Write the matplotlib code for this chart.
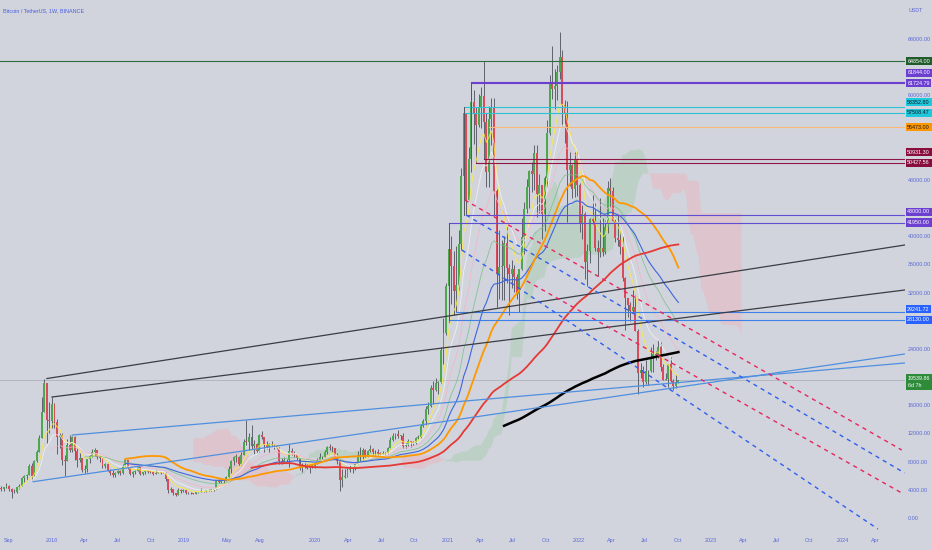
import numpy as np
import pandas as pd
import matplotlib
matplotlib.use('Agg')
import matplotlib.pyplot as plt
import matplotlib.dates as mdates
from matplotlib.transforms import blended_transform_factory

# BTCUSDT weekly candles (Binance), first week 2017-08-14, last week 2022-10-03
first_open = 4261.0
closes = [
    # 2017
    4087, 4380, 4580, 4120, 3690, 3650, 4370, 4600, 5680, 5980, 6150, 7370, 5950, 8040, 9300, 11400, 15100, 19100, 13900, 13800,
    # 2018
    16150, 13600, 11500, 11800, 8200, 8100, 10400, 9650, 11500, 9500, 8200, 8450, 6820, 7000, 8350, 8800, 9400, 9650, 8680, 8500,
    7350, 7700, 6700, 6450, 6150, 6350, 6700, 6350, 7400, 8200, 7030, 6300, 6500, 6700, 7300, 6200, 6500, 6700, 6600, 6560,
    6300, 6420, 6450, 6400, 6350, 5600, 4000, 4100, 3600, 3250, 3950, 3900,
    # 2019
    4030, 3500, 3530, 3500, 3400, 3650, 3650, 3800, 3820, 3950, 4000, 4000, 4100, 5200, 5070, 5300, 5300, 5800, 7000, 8100,
    8700, 8700, 7650, 8900, 10850, 10800, 11450, 10200, 10550, 9500, 11800, 11500, 10300, 10100, 10500, 10400, 10300, 10000, 8050, 7870,
    8300, 8200, 9550, 9200, 9050, 8500, 7050, 7400, 7500, 7100, 7500, 7380,
    # 2020
    7750, 8180, 8700, 8600, 9330, 10150, 9900, 9950, 8530, 8040, 5360, 5830, 5880, 6770, 6900, 7120, 7700, 8900, 8720, 9680,
    8720, 9450, 9750, 9350, 9300, 9100, 9070, 9250, 9170, 9930, 11100, 11680, 11900, 11650, 11700, 10250, 10330, 10930, 10770, 10670,
    11380, 11500, 13030, 13750, 15480, 15960, 18400, 18200, 19150, 19270, 23860, 26250, 32950,
    # 2021
    38150, 35800, 32250, 33100, 38900, 48600, 57500, 45150, 50950, 59000, 57350, 55800, 58200, 59850, 56200, 49100, 56600, 58250, 46400, 34700,
    35650, 35800, 39100, 35500, 34700, 35300, 34250, 31800, 35400, 39850, 43800, 47000, 49300, 48850, 51750, 46050, 47250, 43200, 48200, 54650,
    61550, 60900, 61300, 63300, 65500, 58600, 57300, 49400, 50100, 46700, 50800, 47300,
    # 2022
    41850, 43100, 36300, 37900, 42400, 42200, 38350, 37700, 38400, 37800, 41250, 46850, 46400, 42150, 39700, 39450, 38450, 34050, 31300, 30250,
    29450, 29900, 26550, 20550, 21000, 19300, 20850, 20800, 22600, 23300, 23200, 24300, 21500, 19550, 19800, 21800, 19400, 18800, 19300, 19539.86,
]
highs = [
    4485, 4453, 4939, 4700, 4300, 4123, 4400, 4800, 5850, 6170, 6300, 7600, 7776, 8250, 9700, 11800, 17200, 19800, 19100, 16500,
    17176, 16300, 14000, 12000, 12000, 9000, 11250, 11800, 11700, 11700, 9900, 9200, 8500, 7500, 8400, 9000, 9750, 9990, 9650, 8880,
    8500, 7750, 7750, 6900, 6850, 6530, 6800, 6780, 7700, 8500, 8280, 7150, 6620, 6880, 7400, 7400, 6600, 6820, 6750, 6700,
    6700, 6800, 6500, 6500, 6600, 6500, 5600, 4400, 4150, 3600, 4250, 4150,
    4100, 4100, 3730, 3620, 3550, 3700, 3710, 4200, 3900, 3980, 4050, 4100, 4150, 5400, 5470, 5400, 5600, 5900, 7450, 8300,
    8800, 9100, 8800, 9350, 11200, 13970, 12000, 13200, 11100, 10700, 11900, 12300, 11500, 10900, 10700, 10950, 10450, 10350, 10100, 8500,
    8700, 8400, 10500, 9940, 9500, 9100, 8500, 7850, 7750, 7650, 7500, 7700,
    7850, 8450, 9190, 8800, 9600, 10200, 10500, 10250, 10000, 9200, 8200, 6950, 6900, 7200, 7470, 7300, 7800, 9500, 10070, 9950,
    9850, 9650, 10380, 10000, 9600, 9800, 9300, 9450, 9350, 10100, 11500, 12000, 12100, 12480, 11800, 12050, 10600, 11200, 10990, 10950,
    11500, 11720, 13350, 14100, 15970, 16480, 18950, 19480, 19900, 19400, 24300, 28400, 33300,
    41950, 40100, 37850, 38550, 40950, 49700, 58352, 57500, 52650, 61844, 60700, 58400, 60200, 61200, 64854, 57500, 58450, 59600, 59600, 46700,
    40900, 39500, 40100, 41300, 36000, 36600, 35900, 34700, 35400, 42600, 44800, 48150, 49400, 50500, 52950, 52900, 48850, 47300, 48500, 56550,
    62900, 67000, 63700, 64300, 69000, 66400, 59300, 59200, 51950, 50300, 52000, 52100,
    47600, 44450, 43500, 38900, 42650, 45850, 44700, 39400, 45400, 42600, 42300, 47800, 48200, 47000, 42400, 42950, 40800, 40000, 34250, 31300,
    30650, 32400, 31750, 26900, 22000, 21550, 22500, 21000, 24280, 24650, 23650, 25200, 25000, 21800, 20550, 21900, 22800, 19700, 20350, 19650,
]
lows = [
    3850, 3900, 4311, 3900, 2817, 3505, 3610, 4160, 4560, 5100, 5400, 6100, 5325, 5950, 7900, 9300, 11500, 15000, 10700, 12100,
    12750, 12750, 9035, 10000, 7500, 6000, 8100, 9300, 9400, 8300, 7300, 8000, 6600, 6430, 6575, 7800, 8700, 8850, 8350, 7920,
    7050, 7050, 6650, 6100, 5750, 5780, 6250, 6070, 6300, 7350, 6900, 6100, 5880, 6240, 6700, 6150, 6100, 6200, 6450, 6450,
    6100, 6300, 6380, 6300, 6330, 5300, 3600, 3650, 3300, 3150, 3230, 3530,
    3700, 3400, 3450, 3400, 3350, 3370, 3550, 3650, 3700, 3700, 3800, 3900, 3900, 4100, 4900, 5000, 4950, 5300, 5600, 6400,
    7500, 8000, 7450, 7500, 8950, 10300, 9700, 9800, 9100, 9200, 9400, 11200, 9400, 9800, 9300, 10100, 9850, 9750, 7700, 7700,
    7800, 7900, 7300, 8970, 8700, 8300, 6800, 6550, 7100, 6900, 6435, 7100,
    7100, 7650, 8100, 8240, 8550, 9100, 9700, 9300, 8400, 7600, 3780, 4450, 5700, 5850, 6500, 6450, 6750, 7650, 8100, 8200,
    8600, 8650, 9350, 8900, 9000, 8850, 8900, 9050, 9000, 9150, 9900, 10950, 11150, 11300, 11100, 9900, 9900, 10250, 10140, 10370,
    10530, 11200, 11400, 12900, 13200, 14800, 15800, 16200, 18000, 17600, 19000, 21800, 26000,
    27700, 30400, 28850, 29241, 32300, 37990, 46000, 43000, 45000, 49150, 53050, 50427, 55500, 55400, 51000, 47000, 47050, 53000, 42900, 30000,
    31100, 31000, 31000, 33300, 28800, 32700, 32100, 31050, 29300, 35200, 37500, 43300, 43950, 46350, 46500, 42800, 43350, 39600, 40750, 46900,
    54400, 59500, 58000, 59400, 62300, 55600, 53250, 42000, 47100, 45500, 45550, 45650,
    40600, 39650, 34000, 32950, 36250, 41700, 37950, 34300, 37100, 37150, 37550, 40500, 44200, 42100, 39200, 38550, 37550, 33700, 26700, 28600,
    28000, 29300, 26550, 17600, 19900, 18650, 19000, 18900, 20750, 20700, 22450, 22650, 20800, 19550, 19600, 18550, 19350, 18150, 18450, 19150,
]

# horizontal levels drawn on the chart (price, start week, line colour, label colour, label text colour)
level_prices = [64854.00, 61844.00, 61724.79, 58352.80, 57508.47, 55473.00, 50931.30, 50427.56, 43000.00, 41950.00, 29241.72, 28130.00]
level_starts = [None, '2021-03-08', '2021-03-08', '2021-02-15', '2021-02-15', '2021-04-26', '2021-04-12', '2021-03-22',
                '2021-02-22', '2021-01-04', '2021-01-25', '2021-01-04']
level_line_colors = ['#2f6b3c', '#6a3fcf', '#6a3fcf', '#2cc3d6', '#2cc3d6', '#f7b87a', '#8e1747', '#8e1747',
                     '#5f4fd0', '#5f4fd0', '#3f7fe8', '#3f7fe8']
level_box_colors = ['#1f5b2b', '#6c3fd1', '#6c3fd1', '#1ec8dc', '#1ec8dc', '#ff9800', '#880e3e', '#880e3e',
                    '#6c3fd1', '#6c3fd1', '#2962ff', '#2962ff']
level_text_colors = ['white', 'white', 'white', '#131722', '#131722', '#131722', 'white', 'white',
                     'white', 'white', 'white', 'white']

# box edges (week, price from, price to)
box_edges = [('2021-01-04', 41950.00, 28130.00), ('2021-02-15', 58352.80, 43000.00), ('2021-03-08', 61844.00, 50427.56)]

# solid trend lines (start week, price, end date, price, colour)
trend_lines = [
    ('2017-12-18', 19800, '2024-06-21', 38755, '#3b3d45'),
    ('2018-01-01', 17176, '2024-06-21', 32368, '#3b3d45'),
    ('2018-02-26', 11780, '2024-06-21', 22005, '#4f8fe0'),
    ('2017-11-10', 5150, '2024-06-21', 23282, '#4f8fe0'),
]
# dashed channel lines
dash_lines = [
    ('2021-02-18', 45145, '2024-06-13', 9653, '#e8265e'),
    ('2021-02-22', 43000, '2024-06-21', 6388, '#2f5ef0'),
    ('2021-08-09', 33646, '2024-06-13', 3549, '#e8265e'),
    ('2021-02-10', 38047, '2024-04-08', -1562, '#2f5ef0'),
]

# scale ticks that are not hidden behind the price labels
ytick_values = [0, 4000, 8000, 12000, 16000, 24000, 32000, 36000, 40000, 48000, 60000, 68000]
xtick_dates = ['2017-09-04', '2018-01-01', '2018-04-01', '2018-07-01', '2018-10-01', '2019-01-01', '2019-05-01', '2019-08-01',
               '2020-01-01', '2020-04-01', '2020-07-01', '2020-10-01', '2021-01-01', '2021-04-01', '2021-07-01', '2021-10-01',
               '2022-01-01', '2022-04-01', '2022-07-01', '2022-10-01', '2023-01-01', '2023-04-01', '2023-07-01', '2023-10-01',
               '2024-01-01', '2024-04-01']
xtick_labels = ['Sep', '2018', 'Apr', 'Jul', 'Oct', '2019', 'May', 'Aug', '2020', 'Apr', 'Jul', 'Oct', '2021', 'Apr', 'Jul', 'Oct',
                '2022', 'Apr', 'Jul', 'Oct', '2023', 'Apr', 'Jul', 'Oct', '2024', 'Apr']

plt.rcParams['font.family'] = ['Liberation Sans', 'DejaVu Sans']
BG = '#d1d4dc'
AXIS_TXT = '#5b68d6'
FS = 3.9

n = len(closes)
dates = pd.date_range('2017-08-14', periods=n, freq='7D')
x = mdates.date2num(dates)
c = np.array(closes, float)
o = np.r_[first_open, c[:-1]]
h = np.maximum(np.array(highs, float), np.maximum(o, c))
l = np.minimum(np.array(lows, float), np.minimum(o, c))

fig = plt.figure(figsize=(9.32, 5.5), dpi=100, facecolor=BG)
ax = fig.add_axes([0, 18 / 550, 905 / 932, 532 / 550], facecolor=BG)

# ichimoku cloud (9/26/52, displaced 26)
hs, ls = pd.Series(h), pd.Series(l)
tenkan = (hs.rolling(9).max() + ls.rolling(9).min()) / 2
kijun = (hs.rolling(26).max() + ls.rolling(26).min()) / 2
span_a = np.r_[np.full(25, np.nan), ((tenkan + kijun) / 2).values]
span_b = np.r_[np.full(25, np.nan), ((hs.rolling(52).max() + ls.rolling(52).min()) / 2).values]
x_ext = mdates.date2num(pd.date_range('2017-08-14', periods=n + 25, freq='7D'))
ax.fill_between(x_ext, span_a, span_b, where=span_a >= span_b, interpolate=True, color='#81c784', alpha=0.25, lw=0, zorder=1)
ax.fill_between(x_ext, span_a, span_b, where=span_a < span_b, interpolate=True, color='#ff9aa8', alpha=0.27, lw=0, zorder=1)

# candles
up = c >= o
ax.vlines(x, l, h, color='#4d505a', lw=0.6, zorder=2)
body = np.maximum(np.abs(c - o), 90)
ax.bar(x, body, bottom=np.minimum(o, c), width=5.4, color=np.where(up, '#4ca84f', '#d94a5a'), lw=0, zorder=2.1)

# moving averages
s = pd.Series(c)
for span, col, lw in [(8, '#ffeb3b', 0.7), (13, '#f4f4f4', 0.6), (21, '#f7b3c8', 0.6), (34, '#7cbf87', 0.6)]:
    ax.plot(x, s.ewm(span=span, adjust=False, min_periods=span).mean(), color=col, lw=lw, alpha=0.85, zorder=3)
ax.plot(x, s.ewm(span=50, adjust=False, min_periods=50).mean(), color='#3e66dc', lw=0.8, zorder=3.2)
ax.plot(x, s.rolling(50).mean(), color='#ff9800', lw=1.3, zorder=3.3)
ax.plot(x, s.rolling(100).mean(), color='#e53935', lw=1.3, zorder=3.3)
ax.plot(x, s.rolling(200).mean(), color='black', lw=1.8, zorder=3.4)

# drawings
x_left, x_right = mdates.date2num(pd.Timestamp('2017-08-10')), mdates.date2num(pd.Timestamp('2024-06-22'))
ax.axhline(c[-1], color='#aeb1ba', lw=0.6, zorder=1.5)
for p, st, col in zip(level_prices, level_starts, level_line_colors):
    x0 = x_left if st is None else mdates.date2num(pd.Timestamp(st))
    ax.plot([x0, x_right], [p, p], color=col, lw=0.8, zorder=4)
for st, p0, p1 in box_edges:
    xs = mdates.date2num(pd.Timestamp(st))
    ax.plot([xs, xs], [p0, p1], color='#55585f', lw=0.7, zorder=4)
for d0, p0, d1, p1, col in trend_lines:
    ax.plot(mdates.date2num(pd.to_datetime([d0, d1])), [p0, p1], color=col, lw=0.9, zorder=4)
for d0, p0, d1, p1, col in dash_lines:
    ax.plot(mdates.date2num(pd.to_datetime([d0, d1])), [p0, p1], color=col, lw=1.0, ls=(0, (3, 3)), zorder=4)

ax.set_xlim(x_left, x_right)
ax.set_ylim(-1988, 73540)
for sp in ax.spines.values():
    sp.set_visible(False)

ax.yaxis.tick_right()
ax.set_yticks(ytick_values)
ax.set_yticklabels([f'{v:.2f}' for v in ytick_values])
ax.set_xticks(mdates.date2num(pd.to_datetime(xtick_dates)))
ax.set_xticklabels(xtick_labels)
ax.tick_params(axis='both', length=0, labelsize=FS, colors=AXIS_TXT)
ax.tick_params(axis='y', pad=2.2)
ax.tick_params(axis='x', pad=4.5)

# price labels on the scale, pushed apart where they would overlap
trans = blended_transform_factory(ax.transAxes, ax.transData)
order = np.argsort(level_prices)
shown = {}
prev = -1e9
for i in order:
    pos = max(level_prices[i], prev + 1500)
    shown[i] = pos
    prev = pos
for i, p in enumerate(level_prices):
    ax.text(1.0025, shown[i], f'{p:.2f}', transform=trans, ha='left', va='center', fontsize=FS,
            color=level_text_colors[i], zorder=6, clip_on=False,
            bbox=dict(boxstyle='square,pad=0.3', fc=level_box_colors[i], ec='none'))
ax.annotate(f'{c[-1]:.2f}\n6d 7h', xy=(1.0, c[-1]), xycoords=trans, xytext=(1.8, 3.4), textcoords='offset points',
            ha='left', va='top', fontsize=FS, color='white', linespacing=1.6, zorder=6, annotation_clip=False,
            bbox=dict(boxstyle='square,pad=0.35', fc='#2e8b3a', ec='none'))

fig.text(3 / 932, 1 - 11 / 550, 'Bitcoin / TetherUS, 1W, BINANCE', fontsize=3.9, color='#4a5fe0', va='center')
fig.text(909 / 932, 1 - 10 / 550, 'USDT', fontsize=FS, color=AXIS_TXT, va='center')

fig.savefig('out.png', dpi=100, facecolor=BG)
